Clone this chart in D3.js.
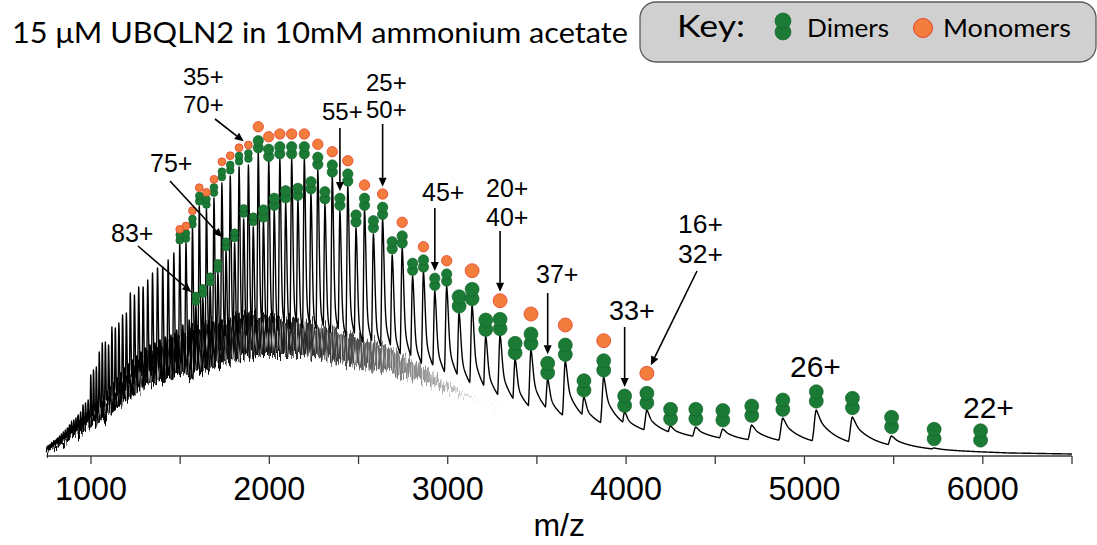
<!DOCTYPE html>
<html>
<head>
<meta charset="utf-8">
<script src="https://cdn.jsdelivr.net/npm/d3@7"></script>
<style>
  body { margin: 0; background: #fff; }
  svg { display: block; }
</style>
</head>
<body>
<svg id="chart" width="1097" height="545"></svg>
<script>
// ---- Native MS of UBQLN2: dimer charge-state series ----
const dimerMass = 131700;      // Da
const protonMass = 1.00728;

// Charge states of the dimer series and the apex intensity of each peak (a.u.)
const chargeStates = [
  22, 23, 24, 25, 26, 27, 28, 29, 30, 31, 32, 33, 34, 35, 36, 37, 38, 39, 40, 41,
  42, 43, 44, 45, 46, 47, 48, 49, 50, 51, 52, 53, 54, 55, 56, 57, 58, 59, 60, 61,
  62, 63, 64, 65, 66, 67, 68, 69, 70, 71, 72, 73, 74, 75, 76, 77, 78, 79, 80, 81,
  82, 83, 84, 85, 86, 87, 88, 89, 90, 91, 92, 93, 94, 95, 96, 97, 98, 99, 100, 101,
  102, 103, 104, 105, 106, 107, 108, 109, 110, 111, 112, 113, 114, 115, 116, 117, 118, 119, 120, 121,
  122, 123, 124, 125, 126, 127, 128, 129, 130, 131, 132, 133, 134, 135, 136, 137, 138, 139, 140, 141,
  142, 143, 144, 145, 146, 147, 148, 149, 150, 151, 152, 153, 154, 155, 156, 157, 158, 159, 160, 161,
  162, 163, 164, 165, 166, 167, 168, 169, 170, 171, 172, 173, 174, 175
];
const peakApex = [
  4, 8, 20, 39, 46, 38, 31, 27, 29, 30, 46, 44, 79, 59, 95, 77, 106, 97, 121, 120,
  151, 143, 170, 165, 184, 180, 208, 201, 237, 222, 246, 228, 270, 245, 279, 252, 286, 262, 297, 256,
  297, 253, 297, 246, 295, 235, 303, 229, 291, 237, 289, 213, 280, 205, 273, 184, 258, 170, 247, 158,
  250, 151, 228, 136, 213, 131, 212, 126, 203, 121, 196, 119, 189, 116, 188, 113, 183, 111, 176, 108,
  169, 104, 169, 100, 161, 96, 163, 92, 143, 88, 141, 83, 133, 78, 128, 73, 129, 69, 111, 64,
  114, 60, 113, 56, 104, 53, 89, 50, 86, 47, 81, 44, 56, 42, 53, 39, 51, 37, 44, 35,
  41, 33, 38, 31, 36, 29, 34, 27, 31, 25, 28, 23, 26, 22, 24, 20, 22, 19, 20, 18,
  18, 17, 16, 15, 15, 14, 13, 12, 12, 11, 11, 10, 10, 9
];

// Background under the charge-state envelope (valley floor)
const baselineMz = [750, 825, 900, 995, 1090, 1190, 1275, 1385, 1555, 1725, 1930, 2170, 2395,
                    2675, 2955, 3180, 3405, 3630, 3965, 4300, 4620, 4975, 5310, 5815, 6150, 6500];
const baselineLevel = [3, 7, 15, 26, 36, 51, 64, 71, 78, 88, 98, 98, 91,
                       81, 66, 53, 41, 33, 25, 19, 15, 12, 9, 5, 3, 2];

// Upper edge of the unresolved signal band
const unresolvedMz = [750, 826, 899, 994, 1090, 1191, 1275, 1387, 1555, 1723, 1930, 2172, 2396, 2676, 2900, 3124, 3290];
const unresolvedTop = [9, 16, 30, 44, 57, 80, 98, 112, 126, 136, 142, 136, 124, 108, 84, 60, 47];

// Even dimer charges that coincide with monomer charges (monomer z = dimer z / 2)
const sharedCharges = [32, 34, 36, 38, 40, 42, 44, 46, 48, 50, 52, 54, 56, 58, 60,
                       62, 64, 66, 68, 70, 72, 74, 76, 78, 80, 82, 84, 86, 88];
const sharedDimerMark = [62.7, 95.3, 111, 122, 136.7, 166.7, 182, 196, 220, 248.7, 257.7, 282, 291, 298.7, 309.3,
                         309.3, 309.3, 306.7, 315.3, 302.7, 300, 291, 284.3, 268.7, 256.7, 260, 237, 222.7, 221];
const monomerMark = [82.7, 115.3, 131, 142, 155.3, 185.3, 195.3, 209.3, 233.7, 262, 271, 295.3, 304.3, 311.7, 322,
                     322, 322, 319.3, 329.3, 311, 308.3, 300.3, 294.3, 276.7, 263.7, 268.3, 245.3, 230, 226.7];

// Dimer-only charge states
const dimerOnlyCharges = [22, 23, 24, 25, 26, 27, 28, 29, 30, 31, 33, 35, 37, 39, 41, 43, 45, 47,
                          49, 51, 53, 55, 57, 59, 61, 63, 65, 67, 69, 71, 73, 75, 77, 79, 81, 83];
const dimerOnlyMark = [25.3, 26.7, 38.7, 57.7, 64.3, 56, 50, 45.5, 46.7, 46.7, 60, 75.3, 92.7, 112.7, 136, 159.3, 177.7, 192.7,
                       214.3, 235.3, 241, 257.7, 264.3, 274.3, 267.7, 265.3, 257.7, 246, 239.3, 247.7, 223.3, 214.3, 192.7, 179.3, 167.7, 160];

// Labelled charge states
const labelCharges = [83, 75, 70, 55, 50, 45, 40, 37, 33, 32, 26, 22];
const labelText = [["83+"], ["75+"], ["35+", "70+"], ["55+"], ["25+", "50+"], ["45+"],
                   ["20+", "40+"], ["37+"], ["33+"], ["16+", "32+"], ["26+"], ["22+"]];

const xTicks = [1000, 1500, 2000, 2500, 3000, 3500, 4000, 4500, 5000, 5500, 6000, 6500];
const xTickLabels = ["1000", "", "2000", "", "3000", "", "4000", "", "5000", "", "6000", ""];

// ---- drawing ----
const svg = d3.select("#chart");
const x = d3.scaleLinear().domain([750, 6500]).range([46.4, 1072]);
const y = d3.scaleLinear().domain([0, 400]).range([456, 56]);
const baselineAt = d3.scaleLinear().domain(baselineMz).range(baselineLevel).clamp(true);
const mzOf = z => (dimerMass + z * protonMass) / z;

const GREEN = "#1b7a34", GREEN_EDGE = "#11602a";
const ORANGE = "#f27d3d", ORANGE_EDGE = "#e5432c";
const labelFont = "'Liberation Sans', Arial, sans-serif";
const headFont = "Lato, 'Open Sans', sans-serif";

// peak list
const peaks = chargeStates.map((z, i) => {
  const mz = mzOf(z);
  return { z, mz, amp: Math.max(0, peakApex[i] - baselineAt(mz)) };
});

// asymmetric native-MS peak: sharp leading edge, adduct tail towards high m/z
function peakShape(d, mz) {
  if (d < 0) {
    const s = 0.0022 * mz;
    return Math.exp(-0.5 * (d / s) * (d / s));
  }
  const s = 0.003 * mz, tau = 0.02 * mz;
  const w = Math.min(0.85, Math.max(0.1, 0.1 + (mz - 1000) / 2800 * 0.6));
  return (1 - w) * Math.exp(-0.5 * (d / s) * (d / s)) + w * Math.exp(-d / tau);
}

// sample the spectrum on a fine m/z grid, plus every apex
const samples = [];
for (let px = x.range()[0]; px <= x.range()[1]; px += 0.25) samples.push(x.invert(px));
peaks.forEach(p => { if (p.mz >= 750 && p.mz <= 6500) samples.push(p.mz); });
samples.sort((a, b) => a - b);

const spectrum = samples.map(mz => {
  let best = 0;
  for (const p of peaks) {
    const d = mz - p.mz;
    if (d < -0.02 * p.mz || d > 0.25 * p.mz) continue;
    const v = p.amp * peakShape(d, p.mz);
    if (v > best) best = v;
  }
  return { mz, v: baselineAt(mz) + best };
});

// unresolved band: fades towards high m/z, streaky grain along m/z
const defs = svg.append("defs");
const grad = defs.append("linearGradient").attr("id", "bandFade")
  .attr("gradientUnits", "userSpaceOnUse")
  .attr("x1", x(750)).attr("x2", x(3300)).attr("y1", 0).attr("y2", 0);
[[0, 1], [0.3, 1], [0.5, 0.9], [0.68, 0.7], [0.86, 0.35], [1, 0]].forEach(([o, a]) =>
  grad.append("stop").attr("offset", o).attr("stop-color", "#000").attr("stop-opacity", a));

const grain = defs.append("filter").attr("id", "grain")
  .attr("x", "-2%").attr("y", "-30%").attr("width", "104%").attr("height", "160%");
grain.append("feTurbulence").attr("type", "fractalNoise")
  .attr("baseFrequency", "0.55 0.02").attr("numOctaves", 2).attr("seed", 7).attr("result", "noise");
grain.append("feColorMatrix").attr("in", "noise").attr("type", "matrix")
  .attr("values", "1 0 0 0 0  0 0 0 0 0.5  0 0 0 0 0  0 0 0 0 1").attr("result", "shift");
grain.append("feDisplacementMap").attr("in", "SourceGraphic").attr("in2", "shift")
  .attr("scale", 24).attr("xChannelSelector", "G").attr("yChannelSelector", "R").attr("result", "moved");
grain.append("feTurbulence").attr("type", "fractalNoise")
  .attr("baseFrequency", "0.8 0.06").attr("numOctaves", 1).attr("seed", 3).attr("result", "noise2");
grain.append("feColorMatrix").attr("in", "noise2").attr("type", "matrix")
  .attr("values", "0 0 0 0 0  0 0 0 0 0  0 0 0 0 0  3 0 0 0 -0.55").attr("result", "speck");
grain.append("feComposite").attr("in", "moved").attr("in2", "speck").attr("operator", "in");

svg.append("path")
  .datum(unresolvedMz.map((m, i) => ({ mz: m, top: unresolvedTop[i] })))
  .attr("fill", "url(#bandFade)")
  .attr("filter", "url(#grain)")
  .attr("d", d3.area().curve(d3.curveMonotoneX)
    .x(d => x(d.mz)).y0(d => y(baselineAt(d.mz)) - 2).y1(d => y(d.top)));

svg.append("path")
  .datum(spectrum)
  .attr("fill", "none")
  .attr("stroke", "#000")
  .attr("stroke-width", 1.4)
  .attr("stroke-linejoin", "round")
  .attr("d", d3.line().x(d => x(d.mz)).y(d => y(d.v)));

// x axis
const axis = svg.append("g").attr("transform", `translate(0,${y(0)})`);
axis.append("line")
  .attr("x1", x(750)).attr("x2", x(6500))
  .attr("stroke", "#3c3c3c").attr("stroke-width", 1.6);
axis.selectAll("line.tick").data(xTicks).join("line")
  .attr("class", "tick")
  .attr("x1", d => x(d)).attr("x2", d => x(d))
  .attr("y1", 0).attr("y2", 8)
  .attr("stroke", "#3c3c3c").attr("stroke-width", 1.3);
axis.selectAll("text").data(xTicks.filter((d, i) => xTickLabels[i])).join("text")
  .attr("x", d => x(d)).attr("y", 44)
  .attr("text-anchor", "middle")
  .attr("font-family", labelFont).attr("font-size", 33)
  .attr("textLength", 72).attr("lengthAdjust", "spacingAndGlyphs")
  .text(d => xTickLabels[xTicks.indexOf(d)]);
svg.append("text")
  .attr("x", (x(750) + x(6500)) / 2).attr("y", 536)
  .attr("text-anchor", "middle")
  .attr("font-family", labelFont).attr("font-size", 32)
  .text("m/z");

// marker size grows with m/z
const dotR = d3.scaleThreshold().domain([1920, 3000]).range([3.9, 5.2, 7]);

function pairOfDimerDots(g, z, level) {
  const mz = mzOf(z), r = dotR(mz), cx = x(mz), cy = y(level);
  [cy + 1.35 * r, cy].forEach(c =>
    g.append("circle").attr("cx", cx).attr("cy", c).attr("r", r)
      .attr("fill", GREEN).attr("stroke", GREEN_EDGE).attr("stroke-width", 0.6));
}

const dots = svg.append("g");
dimerOnlyCharges.forEach((z, i) => pairOfDimerDots(dots, z, dimerOnlyMark[i]));
sharedCharges.forEach((z, i) => {
  pairOfDimerDots(dots, z, sharedDimerMark[i]);
  const mz = mzOf(z);
  dots.append("circle").attr("cx", x(mz)).attr("cy", y(monomerMark[i])).attr("r", dotR(mz))
    .attr("fill", ORANGE).attr("stroke", ORANGE_EDGE).attr("stroke-width", 0.8);
});

// top marker of a charge state (monomer marker if present)
function topMark(z) {
  const si = sharedCharges.indexOf(z);
  const lvl = si >= 0 ? monomerMark[si] : dimerOnlyMark[dimerOnlyCharges.indexOf(z)];
  return [x(mzOf(z)), y(lvl), dotR(mzOf(z))];
}

// label placement (pixels) and arrow tails
const labelLayout = {
  83: { tx: 111, ty: 242, size: 25, from: [138, 246] },
  75: { tx: 150, ty: 172, size: 25, from: [170, 181] },
  70: { tx: 183, ty: 85, size: 24, lh: 28, from: [215, 119] },
  55: { tx: 322, ty: 120, size: 24, fromY: 128 },
  50: { tx: 366, ty: 91, size: 24, lh: 27, fromY: 124 },
  45: { tx: 422, ty: 201, size: 25, fromY: 208 },
  40: { tx: 486, ty: 197, size: 25, lh: 29, fromY: 231 },
  37: { tx: 536, ty: 283, size: 25, fromY: 293 },
  33: { tx: 609, ty: 320, size: 27, fromY: 327 },
  32: { tx: 678, ty: 233, size: 26.5, lh: 30, from: [697, 271] },
  26: { tx: 790, ty: 377, size: 30 },
  22: { tx: 963, ty: 418, size: 30 }
};

const notes = svg.append("g");
labelCharges.forEach((z, i) => {
  const L = labelLayout[z];
  labelText[i].forEach((t, k) => {
    notes.append("text")
      .attr("x", L.tx).attr("y", L.ty + k * (L.lh || 0))
      .attr("font-family", labelFont).attr("font-size", L.size)
      .attr("fill", "#000").text(t);
  });
  if (!L.from && L.fromY === undefined) return;
  const [cx, cy, r] = topMark(z);
  const start = L.from ? L.from : [cx, L.fromY];
  const dx = cx - start[0], dy = cy - start[1];
  const len = Math.hypot(dx, dy), ux = dx / len, uy = dy / len;
  const tip = [cx - ux * (r + 2), cy - uy * (r + 2)];
  const head = 9, half = 4;
  const base = [tip[0] - ux * head, tip[1] - uy * head];
  notes.append("line")
    .attr("x1", start[0]).attr("y1", start[1])
    .attr("x2", base[0]).attr("y2", base[1])
    .attr("stroke", "#000").attr("stroke-width", 1.6);
  notes.append("path")
    .attr("d", `M${tip[0]},${tip[1]}L${base[0] - uy * half},${base[1] + ux * half}L${base[0] + uy * half},${base[1] - ux * half}Z`)
    .attr("fill", "#000");
});

// title
svg.append("text")
  .attr("x", 12).attr("y", 43)
  .attr("font-family", headFont).attr("font-size", 28)
  .attr("textLength", 616).attr("lengthAdjust", "spacingAndGlyphs")
  .text("15 \u03bcM UBQLN2 in 10mM ammonium acetate");

// key
const key = svg.append("g");
key.append("rect")
  .attr("x", 640).attr("y", 2).attr("width", 456).attr("height", 60)
  .attr("rx", 16).attr("ry", 16)
  .attr("fill", "#d0d0d0").attr("stroke", "#5a5a5a").attr("stroke-width", 1.3);
key.append("text").attr("x", 677).attr("y", 36.5)
  .attr("font-family", headFont).attr("font-size", 31)
  .attr("textLength", 68).attr("lengthAdjust", "spacingAndGlyphs").text("Key:");
[32, 21].forEach(cy => key.append("circle").attr("cx", 783).attr("cy", cy).attr("r", 8)
  .attr("fill", GREEN).attr("stroke", GREEN_EDGE).attr("stroke-width", 0.6));
key.append("text").attr("x", 807).attr("y", 36.5)
  .attr("font-family", headFont).attr("font-size", 25)
  .attr("textLength", 82).attr("lengthAdjust", "spacingAndGlyphs").text("Dimers");
key.append("circle").attr("cx", 923).attr("cy", 28).attr("r", 9.5)
  .attr("fill", ORANGE).attr("stroke", ORANGE_EDGE).attr("stroke-width", 1);
key.append("text").attr("x", 943).attr("y", 36.5)
  .attr("font-family", headFont).attr("font-size", 25)
  .attr("textLength", 128).attr("lengthAdjust", "spacingAndGlyphs").text("Monomers");
</script>
</body>
</html>
